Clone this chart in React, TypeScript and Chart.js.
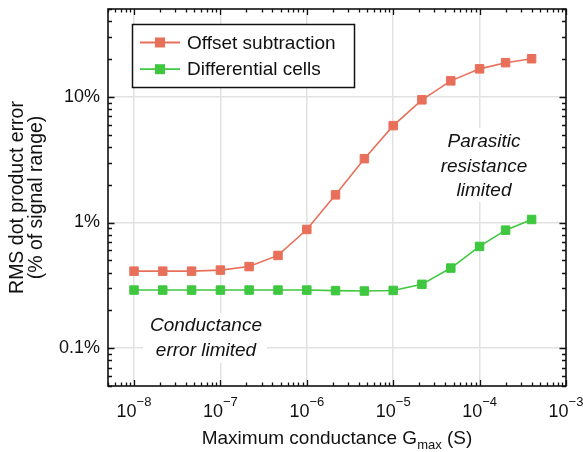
import React, { useEffect, useRef } from 'react';
import { Chart, registerables } from 'chart.js';

Chart.register(...registerables);

// ---------- data ----------
const conductance = [1e-8, 2.15e-8, 4.64e-8, 1e-7, 2.15e-7, 4.64e-7, 1e-6, 2.15e-6, 4.64e-6, 1e-5, 2.15e-5, 4.64e-5, 1e-4, 2e-4, 4e-4];
const offsetSubtraction = [0.41, 0.41, 0.41, 0.418, 0.446, 0.547, 0.88, 1.66, 3.22, 5.9, 9.47, 13.4, 16.7, 18.7, 20.1];
const differentialCells = [0.29, 0.29, 0.29, 0.29, 0.29, 0.29, 0.29, 0.287, 0.285, 0.288, 0.322, 0.434, 0.645, 0.869, 1.057];
const seriesNames = ['Offset subtraction', 'Differential cells'];
const seriesColors = ['#e8705a', '#3fc73f'];
const yTickLabels: Record<string, string> = { '0.1': '0.1%', '1': '1%', '10': '10%' };
const xTickBase = '10';
const xRange = [5e-9, 1e-3];
const yRange = [0.05, 50];
const xTitleParts = ['Maximum conductance G', 'max', ' (S)'];
const yTitleLines = ['RMS dot product error', '(% of signal range)'];
const noteParasitic = ['Parasitic', 'resistance', 'limited'];
const noteConductance = ['Conductance', 'error limited'];

const FONT = '"Liberation Sans", Arial, Helvetica, sans-serif';
const isDecade = (v: number) => Math.abs(Math.log10(v) - Math.round(Math.log10(v))) < 1e-6;

const decorPlugin = {
  id: 'decor',
  beforeDatasetsDraw(chart: any) {
    const ctx = chart.ctx as CanvasRenderingContext2D;
    ctx.save();
    ctx.fillStyle = '#ffffff';
    ctx.fillRect(434, 128, 100, 74);
    ctx.fillRect(143, 313, 124, 50);
    ctx.fillStyle = '#111111';
    ctx.font = `italic 19px ${FONT}`;
    ctx.textAlign = 'center';
    ctx.textBaseline = 'middle';
    noteParasitic.forEach((t, i) => ctx.fillText(t, 484, 142 + i * 24.3));
    noteConductance.forEach((t, i) => ctx.fillText(t, 206, 326 + i * 25));
    ctx.restore();
  },
  afterDatasetsDraw(chart: any) {
    const ctx = chart.ctx as CanvasRenderingContext2D;
    const { left, right, top, bottom } = chart.chartArea;
    const xs = chart.scales.x;
    const ys = chart.scales.y;
    ctx.save();
    ctx.strokeStyle = '#111111';
    ctx.lineWidth = 1.3;
    ctx.beginPath();
    for (let e = -9; e <= -3; e++) {
      for (let m = 1; m <= 9; m++) {
        const v = m * Math.pow(10, e);
        if (v < xRange[0] * 0.999 || v > xRange[1] * 1.001) continue;
        const p = Math.round(xs.getPixelForValue(v)) + 0.5;
        const len = m === 1 ? 6 : 3.5;
        ctx.moveTo(p, bottom); ctx.lineTo(p, bottom - len);
        ctx.moveTo(p, top); ctx.lineTo(p, top + len);
      }
    }
    for (let e = -2; e <= 1; e++) {
      for (let m = 1; m <= 9; m++) {
        const v = m * Math.pow(10, e);
        if (v < yRange[0] * 0.999 || v > yRange[1] * 1.001) continue;
        const p = Math.round(ys.getPixelForValue(v)) + 0.5;
        const len = m === 1 ? 6.5 : 4;
        ctx.moveTo(left, p); ctx.lineTo(left + len, p);
        ctx.moveTo(right, p); ctx.lineTo(right - len, p);
      }
    }
    ctx.stroke();
    ctx.lineWidth = 1.6;
    ctx.strokeRect(left, top, right - left, bottom - top);
    ctx.restore();
  },
  afterDraw(chart: any) {
    const ctx = chart.ctx as CanvasRenderingContext2D;
    const { left, right, top, bottom } = chart.chartArea;
    const xs = chart.scales.x;
    ctx.save();
    // x tick labels: 10 with superscript exponent, placed through the x scale
    const big = `19px ${FONT}`;
    const tickBig = `18px ${FONT}`;
    const tickSmall = `13px ${FONT}`;
    ctx.fillStyle = '#111111';
    ctx.textBaseline = 'alphabetic';
    ctx.textAlign = 'left';
    xs.ticks.forEach((t: any) => {
      if (!isDecade(t.value)) return;
      const exp = '\u2212' + String(Math.abs(Math.round(Math.log10(t.value))));
      ctx.font = tickBig;
      const wb = ctx.measureText(xTickBase).width;
      ctx.font = tickSmall;
      const we = ctx.measureText(exp).width;
      const cx = xs.getPixelForValue(t.value);
      let x = cx - (wb + we) / 2;
      ctx.font = tickBig;
      ctx.fillText(xTickBase, x, bottom + 31);
      x += wb;
      ctx.font = tickSmall;
      ctx.fillText(exp, x, bottom + 20);
    });
    // legend
    ctx.fillStyle = '#ffffff';
    ctx.fillRect(132, 24, 223, 64);
    ctx.strokeStyle = '#111111';
    ctx.lineWidth = 1.5;
    ctx.strokeRect(132.5, 24.5, 222, 63);
    seriesNames.forEach((name, i) => {
      const y = 42.5 + i * 26.7;
      ctx.strokeStyle = seriesColors[i];
      ctx.lineWidth = 1.8;
      ctx.beginPath();
      ctx.moveTo(140, y); ctx.lineTo(180, y);
      ctx.stroke();
      ctx.fillStyle = seriesColors[i];
      ctx.fillRect(155, y - 5, 10, 10);
      ctx.fillStyle = '#111111';
      ctx.font = `19px ${FONT}`;
      ctx.textAlign = 'left';
      ctx.textBaseline = 'middle';
      ctx.fillText(name, 187, y + 1);
    });
    // x title with subscript
    ctx.fillStyle = '#111111';
    ctx.textBaseline = 'alphabetic';
    ctx.textAlign = 'left';
    const small = `13px ${FONT}`;
    ctx.font = big;
    const w0 = ctx.measureText(xTitleParts[0]).width;
    const w2 = ctx.measureText(xTitleParts[2]).width;
    ctx.font = small;
    const w1 = ctx.measureText(xTitleParts[1]).width;
    let x = (left + right) / 2 - (w0 + w1 + w2) / 2;
    const by = 444;
    ctx.font = big; ctx.fillText(xTitleParts[0], x, by); x += w0;
    ctx.font = small; ctx.fillText(xTitleParts[1], x, by + 5); x += w1;
    ctx.font = big; ctx.fillText(xTitleParts[2], x, by);
    // y title
    ctx.save();
    ctx.translate(0, (top + bottom) / 2);
    ctx.rotate(-Math.PI / 2);
    ctx.textAlign = 'center';
    ctx.textBaseline = 'middle';
    ctx.font = `19.5px ${FONT}`;
    yTitleLines.forEach((t, i) => ctx.fillText(t, 0, 17.5 + i * 19.5));
    ctx.restore();
    ctx.restore();
  },
};

const zeroPad = (s: any) => {
  s.paddingLeft = 0; s.paddingRight = 0; s.paddingTop = 0; s.paddingBottom = 0;
};

export default function App() {
  const ref = useRef<HTMLCanvasElement | null>(null);
  useEffect(() => {
    document.body.style.margin = '0';
    const canvas = ref.current;
    if (!canvas) return;
    const mk = (ys: number[]) => conductance.map((x, i) => ({ x, y: ys[i] }));
    const ds = (i: number, values: number[]) => ({
      label: seriesNames[i],
      data: mk(values),
      borderColor: seriesColors[i],
      backgroundColor: seriesColors[i],
      borderWidth: 1.6,
      pointStyle: 'rect',
      pointRadius: 6,
      pointBorderWidth: 1,
      pointBorderColor: seriesColors[i],
      pointBackgroundColor: seriesColors[i],
      tension: 0,
    });
    const gridColor = (c: any) => (c.tick && isDecade(c.tick.value) ? '#e2e2e2' : 'rgba(0,0,0,0)');
    const chart = new Chart(canvas, {
      type: 'line',
      data: { datasets: [ds(0, offsetSubtraction), ds(1, differentialCells)] },
      options: {
        responsive: false,
        animation: false,
        layout: { padding: { top: 9, right: 17, left: 0, bottom: 0 } },
        plugins: { legend: { display: false }, tooltip: { enabled: false } },
        scales: {
          x: {
            type: 'logarithmic',
            min: xRange[0],
            max: xRange[1],
            afterFit: (s: any) => { s.height = 66; zeroPad(s); },
            grid: { drawTicks: false, color: gridColor, lineWidth: 1.5 },
            border: { display: false },
            ticks: { display: false, autoSkip: false, maxRotation: 0 },
          },
          y: {
            type: 'logarithmic',
            min: yRange[0],
            max: yRange[1],
            afterFit: (s: any) => { s.width = 108; zeroPad(s); },
            grid: { drawTicks: false, color: gridColor, lineWidth: 1.5 },
            border: { display: false },
            ticks: {
              autoSkip: false,
              padding: 8,
              color: '#111111',
              font: { family: FONT, size: 18 },
              callback: (v: any) => {
                const n = Number(v);
                if (!isDecade(n)) return '';
                const key = String(Math.pow(10, Math.round(Math.log10(n))));
                return yTickLabels[key] ?? '';
              },
            },
          },
        },
      },
      plugins: [decorPlugin],
    });
    return () => chart.destroy();
  }, []);
  return (
    <div style={{ width: 583, height: 452 }}>
      <canvas ref={ref} width={583} height={452} />
    </div>
  );
}
